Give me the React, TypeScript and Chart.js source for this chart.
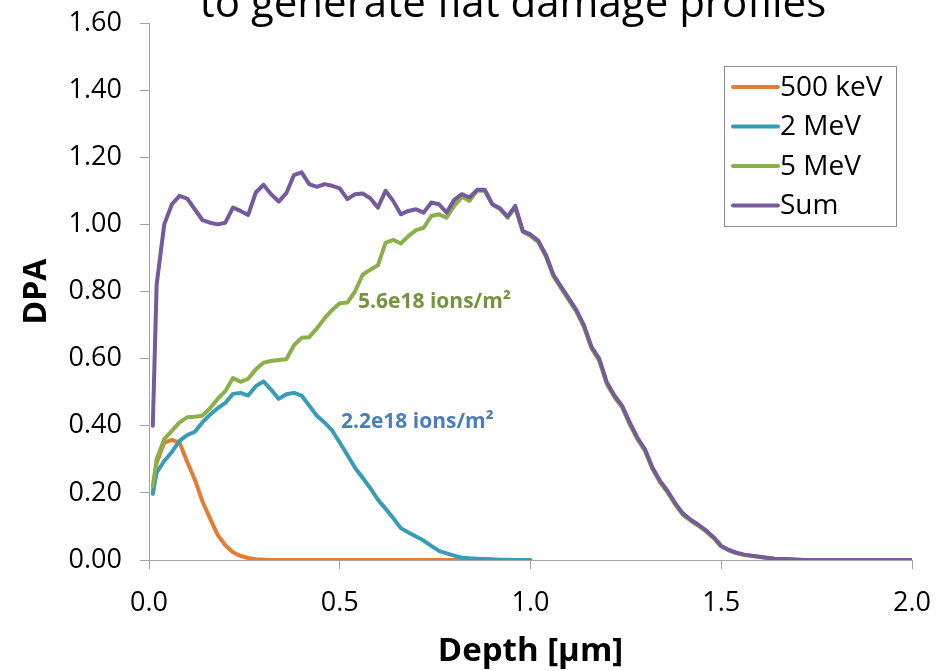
import React, { useEffect, useRef } from 'react';
import { Chart, registerables } from 'chart.js';

Chart.register(...registerables);

// Sampling grid of depth (µm)
const depth: number[] = [0.01, ...Array.from({ length: 100 }, (_, i) => (2 * (i + 1)) / 100)];

const seriesLabels = ['500 keV', '2 MeV', '5 MeV', 'Sum'];
const seriesColors = ['#E27D33', '#379DB5', '#8BAF4B', '#765A9C'];

// 500 keV (0.01 ... 0.82)
const dpa500keV = [
  0.20, 0.29, 0.35, 0.358, 0.35, 0.293, 0.24, 0.175, 0.124, 0.075, 0.044, 0.023, 0.012, 0.006, 0.002, 0.001,
  0, 0, 0, 0, 0, 0, 0, 0, 0, 0, 0, 0, 0, 0, 0, 0, 0, 0, 0, 0, 0, 0, 0, 0, 0, 0,
];

// 2 MeV (0.01 ... 1.00)
const dpa2MeV = [
  0.197, 0.26, 0.295, 0.322, 0.355, 0.372, 0.382, 0.41, 0.433, 0.452, 0.468, 0.495, 0.498, 0.49, 0.518, 0.532,
  0.508, 0.48, 0.494, 0.498, 0.49, 0.46, 0.43, 0.41, 0.386, 0.35, 0.313, 0.275, 0.245, 0.214, 0.18, 0.153,
  0.125, 0.095, 0.082, 0.07, 0.058, 0.042, 0.027, 0.02, 0.013, 0.007, 0.005, 0.004, 0.003, 0.002, 0.001, 0.001,
  0, 0, 0,
];

// 5 MeV (0.01 ... 2.00)
const dpa5MeV = [
  0.22, 0.30, 0.36, 0.385, 0.41, 0.425, 0.427, 0.43, 0.452, 0.48, 0.503, 0.542, 0.531, 0.54, 0.568, 0.588,
  0.593, 0.596, 0.598, 0.64, 0.662, 0.664, 0.69, 0.72, 0.745, 0.765, 0.767, 0.80, 0.85, 0.865, 0.878, 0.945,
  0.954, 0.943, 0.965, 0.983, 0.99, 1.025, 1.03, 1.02, 1.055, 1.082, 1.07, 1.10, 1.10, 1.06, 1.045, 1.02,
  1.05, 0.978, 0.965,
  0.948, 0.905, 0.845, 0.81, 0.775, 0.74, 0.694, 0.63, 0.594, 0.524, 0.485, 0.455, 0.404, 0.36, 0.325, 0.27,
  0.23, 0.2, 0.164, 0.134, 0.117, 0.102, 0.085, 0.065, 0.04, 0.028, 0.02, 0.015, 0.012, 0.009, 0.006, 0.004,
  0.003, 0.002, 0.001,
  0, 0, 0, 0, 0, 0, 0, 0, 0, 0, 0, 0, 0, 0, 0,
];

// Sum (0.01 ... 2.00)
const dpaSum = [
  0.40, 0.82, 1.00, 1.06, 1.085, 1.077, 1.045, 1.013, 1.005, 1.00, 1.005, 1.05, 1.04, 1.028, 1.095, 1.118,
  1.09, 1.068, 1.093, 1.147, 1.155, 1.12, 1.112, 1.12, 1.115, 1.107, 1.075, 1.09, 1.092, 1.078, 1.05, 1.10,
  1.07, 1.03, 1.04, 1.045, 1.035, 1.065, 1.06, 1.035, 1.073, 1.09, 1.08, 1.103, 1.103, 1.06, 1.048, 1.023,
  1.055, 0.98, 0.97,
  0.952, 0.91, 0.85, 0.815, 0.78, 0.745, 0.70, 0.635, 0.60, 0.53, 0.49, 0.46, 0.41, 0.365, 0.33, 0.275,
  0.235, 0.205, 0.168, 0.138, 0.12, 0.105, 0.088, 0.068, 0.042, 0.03, 0.022, 0.016, 0.013, 0.010, 0.007, 0.004,
  0.003, 0.002, 0.001,
  0, 0, 0, 0, 0, 0, 0, 0, 0, 0, 0, 0, 0, 0, 0,
];

const seriesValues = [dpa500keV, dpa2MeV, dpa5MeV, dpaSum];

// Fluence annotations
const annotationTexts = ['5.6e18 ions/m\u00B2', '2.2e18 ions/m\u00B2'];
const annotationDepth = [0.548, 0.503];
const annotationDpa = [0.769, 0.411];
const annotationColors = ['#76923C', '#4A7EBB'];

const titleText = 'to generate flat damage profiles';
const xAxisTitle = 'Depth [\u00B5m]';
const yAxisTitle = 'DPA';

const FONT = '"Open Sans", "Noto Sans", sans-serif';
const AXIS_GREY = '#a3a3a3';

const topTitlePlugin = {
  id: 'topTitle',
  afterDraw(chart: any) {
    const ctx = chart.ctx;
    ctx.save();
    ctx.font = `42px ${FONT}`;
    ctx.fillStyle = '#000';
    ctx.textAlign = 'center';
    ctx.textBaseline = 'alphabetic';
    ctx.fillText(titleText, 513, 17);
    ctx.restore();
  },
};

const annotationPlugin = {
  id: 'fluenceNotes',
  afterDatasetsDraw(chart: any) {
    const { ctx, scales } = chart;
    ctx.save();
    ctx.font = `bold 21px ${FONT}`;
    ctx.textAlign = 'left';
    ctx.textBaseline = 'middle';
    annotationTexts.forEach((t, i) => {
      ctx.fillStyle = annotationColors[i];
      ctx.fillText(t, scales.x.getPixelForValue(annotationDepth[i]), scales.y.getPixelForValue(annotationDpa[i]));
    });
    ctx.restore();
  },
};

const boxLegendPlugin = {
  id: 'boxLegend',
  afterDraw(chart: any) {
    const { ctx, chartArea } = chart;
    const left = chartArea.right - 188;
    const top = chartArea.top + 43;
    const w = 172;
    const h = 160;
    ctx.save();
    ctx.fillStyle = '#fff';
    ctx.fillRect(left, top, w, h);
    ctx.strokeStyle = '#8c8c8c';
    ctx.lineWidth = 1;
    ctx.strokeRect(left + 0.5, top + 0.5, w, h);
    ctx.font = `28px ${FONT}`;
    ctx.textBaseline = 'middle';
    ctx.textAlign = 'left';
    chart.data.datasets.forEach((ds: any, i: number) => {
      const y = top + 21 + i * 39.5;
      ctx.strokeStyle = ds.borderColor;
      ctx.lineWidth = 4;
      ctx.lineCap = 'round';
      ctx.beginPath();
      ctx.moveTo(left + 9, y);
      ctx.lineTo(left + 54, y);
      ctx.stroke();
      ctx.fillStyle = '#000';
      ctx.fillText(ds.label, left + 56, y + 1);
    });
    ctx.restore();
  },
};

export default function App() {
  const canvasRef = useRef<HTMLCanvasElement | null>(null);

  useEffect(() => {
    const canvas = canvasRef.current;
    if (!canvas) return;
    const order = [3, 2, 1, 0];
    const chart = new Chart(canvas, {
      type: 'line',
      data: {
        datasets: seriesValues.map((vals, si) => ({
          label: seriesLabels[si],
          data: vals.map((v, i) => ({ x: depth[i], y: v })),
          borderColor: seriesColors[si],
          backgroundColor: seriesColors[si],
          borderWidth: 4,
          pointRadius: 0,
          tension: 0,
          fill: false,
          borderJoinStyle: 'round',
          borderCapStyle: 'round',
          order: order[si],
        })),
      },
      options: {
        responsive: false,
        animation: false,
        devicePixelRatio: 1,
        layout: { padding: { left: 0, top: 23, right: 37, bottom: 0 } },
        plugins: {
          legend: { display: false },
          title: { display: false },
          tooltip: { enabled: false },
        },
        scales: {
          x: {
            type: 'linear',
            min: 0,
            max: 2,
            afterFit: (s: any) => {
              s.height = 111;
              s.paddingLeft = 0;
              s.paddingRight = 0;
            },
            ticks: {
              stepSize: 0.5,
              padding: 18,
              color: '#000',
              font: { family: FONT, size: 27 },
              callback: (v: any) => Number(v).toFixed(1),
            },
            grid: { drawOnChartArea: false, drawTicks: true, tickLength: 9, color: AXIS_GREY },
            border: { color: AXIS_GREY, width: 1 },
            title: {
              display: true,
              text: xAxisTitle,
              color: '#000',
              font: { family: FONT, size: 33, weight: 'bold' },
              padding: { top: 0, bottom: 0 },
            },
          },
          y: {
            type: 'linear',
            min: 0,
            max: 1.6,
            afterFit: (s: any) => {
              s.width = 149;
              s.paddingTop = 0;
              s.paddingBottom = 0;
            },
            ticks: {
              stepSize: 0.2,
              padding: 18,
              color: '#000',
              font: { family: FONT, size: 27 },
              callback: (v: any) => Number(v).toFixed(2),
            },
            grid: { drawOnChartArea: false, drawTicks: true, tickLength: 9, color: AXIS_GREY },
            border: { color: AXIS_GREY, width: 1 },
            title: {
              display: true,
              text: yAxisTitle,
              color: '#000',
              font: { family: FONT, size: 32, weight: 'bold' },
              padding: { top: 18, bottom: 0 },
            },
          },
        },
      },
      plugins: [annotationPlugin, boxLegendPlugin, topTitlePlugin],
    } as any);
    return () => chart.destroy();
  }, []);

  return (
    <div style={{ position: 'absolute', left: 0, top: 0, width: 949, height: 671, background: '#fff' }}>
      <canvas ref={canvasRef} width={949} height={671} style={{ width: 949, height: 671, display: 'block' }} />
    </div>
  );
}
